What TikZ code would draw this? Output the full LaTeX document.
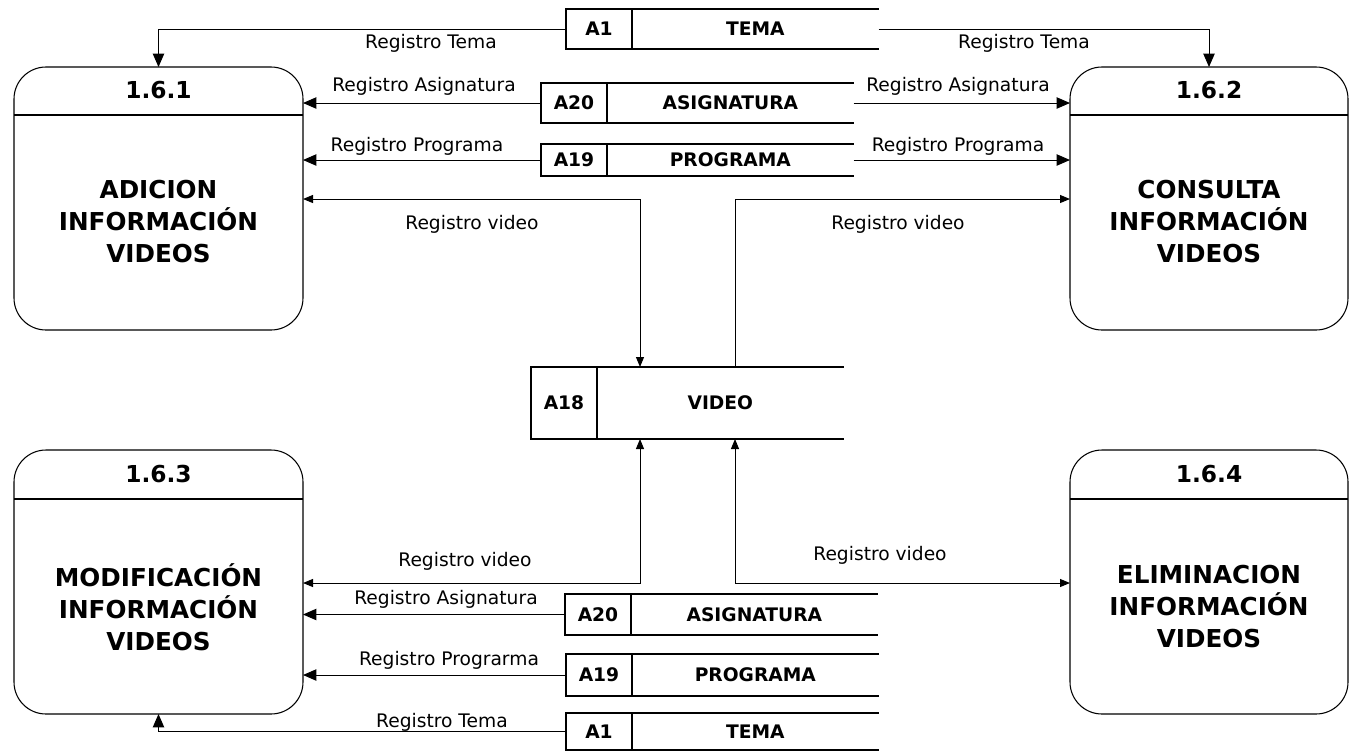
\documentclass[tikz,border=0pt]{standalone}
\usepackage{fontspec}
\setmainfont{DejaVu Sans}
\usetikzlibrary{arrows.meta,positioning}

\tikzset{
  proc/.style={draw,line width=0.8pt,rounded corners=24pt,inner sep=0pt,outer sep=0pt},
  ptitle/.style={font=\fontsize{17.5}{20}\selectfont\bfseries},
  pbody/.style={font=\fontsize{18.5}{24}\selectfont\bfseries,align=center},
  sid/.style={draw,line width=1.1pt,minimum width=49.5pt,inner sep=0pt,outer sep=0pt,
    font=\fontsize{14}{16}\selectfont\bfseries},
  sname/.style={minimum width=185pt,inner sep=0pt,outer sep=0pt,
    font=\fontsize{14}{16}\selectfont\bfseries},
  sline/.style={line width=1.1pt},
  lbl/.style={font=\fontsize{14}{16}\selectfont},
  flow/.style={line width=0.75pt},
  vflow/.style={line width=0.75pt,>={Triangle[length=7.5pt,width=6pt]}}
}

\begin{document}
\begin{tikzpicture}[x=0.75pt,y=-0.75pt,>={Triangle[length=10pt,width=8.5pt]}]
  \useasboundingbox (0,0) rectangle (1350,751);
  % processes
  \node[proc,minimum width=216.75pt,minimum height=197.25pt] (p161) at (158.5,198.5) {};
  \node[proc,minimum width=208.5pt,minimum height=197.25pt]  (p162) at (1209,198.5) {};
  \node[proc,minimum width=216.75pt,minimum height=198pt]    (p163) at (158.5,582) {};
  \node[proc,minimum width=208.5pt,minimum height=198pt]     (p164) at (1209,582) {};
  \draw[line width=0.8pt] (p161.west |- 0,115) -- (p161.east |- 0,115);
  \draw[line width=0.8pt] (p162.west |- 0,115) -- (p162.east |- 0,115);
  \draw[line width=0.8pt] (p163.west |- 0,499) -- (p163.east |- 0,499);
  \draw[line width=0.8pt] (p164.west |- 0,499) -- (p164.east |- 0,499);
  \node[ptitle] (t161) at (158.5,90) {1.6.1};
  \node[pbody]  (b161) at (158.5,222) {ADICION\\INFORMACIÓN\\VIDEOS};
  \node[ptitle] (t162) at (1209,90) {1.6.2};
  \node[pbody]  (b162) at (1209,222) {CONSULTA\\INFORMACIÓN\\VIDEOS};
  \node[ptitle] (t163) at (158.5,474) {1.6.3};
  \node[pbody]  (b163) at (158.5,607) {MODIFICACIÓN\\INFORMACIÓN\\VIDEOS};
  \node[ptitle] (t164) at (1209,474) {1.6.4};
  \node[pbody]  (b164) at (1209,607) {ELIMINACION\\INFORMACIÓN\\VIDEOS};
  % stores
  \node[sid,minimum height=30pt]    (a1t)  at (599,29)    {A1};
  \node[sname,minimum height=30pt,right=0pt of a1t]     (tema1) {TEMA};
  \node[sid,minimum height=30pt]    (a20t) at (574,103)   {A20};
  \node[sname,minimum height=30pt,right=0pt of a20t]    (asig1) {ASIGNATURA};
  \node[sid,minimum height=24pt]    (a19t) at (574,160)   {A19};
  \node[sname,minimum height=24pt,right=0pt of a19t]    (prog1) {PROGRAMA};
  \node[sid,minimum height=54pt]    (a18)  at (564,403)   {A18};
  \node[sname,minimum height=54pt,right=0pt of a18]     (video) {VIDEO};
  \node[sid,minimum height=30.75pt] (a20b) at (598,614.5) {A20};
  \node[sname,minimum height=30.75pt,right=0pt of a20b] (asig2) {ASIGNATURA};
  \node[sid,minimum height=31.5pt]  (a19b) at (599,675)   {A19};
  \node[sname,minimum height=31.5pt,right=0pt of a19b]  (prog2) {PROGRAMA};
  \node[sid,minimum height=28pt]    (a1b)  at (599,731.5) {A1};
  \node[sname,minimum height=28pt,right=0pt of a1b]     (tema2) {TEMA};
  \foreach \i/\n in {a1t/tema1,a20t/asig1,a19t/prog1,a18/video,a20b/asig2,a19b/prog2,a1b/tema2}
    \draw[sline] (\i.north east) -- (\n.north east) (\i.south east) -- (\n.south east);
  % flows
  \draw[flow,->] (a1t.west) -| (p161.north);
  \draw[flow,->] (tema1.east) -| (p162.north);
  \draw[flow,->] (a20t.west) -- (a20t.west -| p161.east);
  \draw[flow,->] (asig1.east) -- (asig1.east -| p162.west);
  \draw[flow,->] (a19t.west) -- (a19t.west -| p161.east);
  \draw[flow,->] (prog1.east) -- (prog1.east -| p162.west);
  \coordinate (v1) at (640,199);
  \coordinate (v2) at (735,199);
  \coordinate (v3) at (640,583);
  \coordinate (v4) at (735,583);
  \draw[vflow,<->] (v1 -| p161.east) -- (v1) -- (v1 |- video.north);
  \draw[vflow,->] (v2 |- video.north) -- (v2) -- (v2 -| p162.west);
  \draw[vflow,<->] (v3 -| p163.east) -- (v3) -- (v3 |- video.south);
  \draw[vflow,<->] (v4 |- video.south) -- (v4) -- (v4 -| p164.west);
  \draw[flow,->] (a20b.west) -- (a20b.west -| p163.east);
  \draw[flow,->] (a19b.west) -- (a19b.west -| p163.east);
  \draw[flow,->] (a1b.west) -| (p163.south);
  % labels
  \node[lbl] (l1)  at (431,43)  {Registro Tema};
  \node[lbl] (l2)  at (1024,43) {Registro Tema};
  \node[lbl] (l3)  at (424,86)  {Registro Asignatura};
  \node[lbl] (l4)  at (958,86)  {Registro Asignatura};
  \node[lbl] (l5)  at (417,146) {Registro Programa};
  \node[lbl] (l6)  at (958,146) {Registro Programa};
  \node[lbl] (l7)  at (472,224) {Registro video};
  \node[lbl] (l8)  at (898,224) {Registro video};
  \node[lbl] (l9)  at (465,561) {Registro video};
  \node[lbl] (l10) at (880,555) {Registro video};
  \node[lbl] (l11) at (446,599) {Registro Asignatura};
  \node[lbl] (l12) at (449,660) {Registro Prograrma};
  \node[lbl] (l13) at (442,722) {Registro Tema};
\end{tikzpicture}
\end{document}
